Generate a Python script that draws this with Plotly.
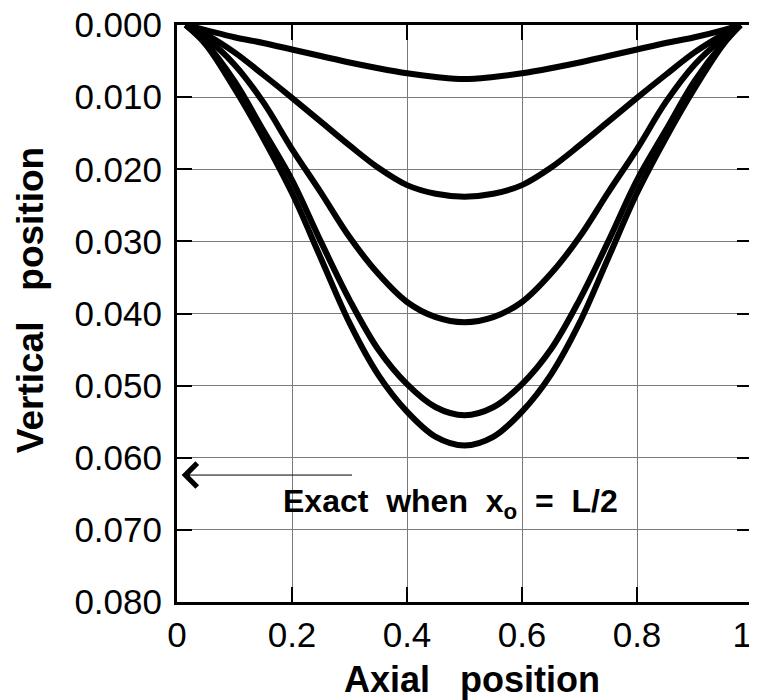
import plotly.graph_objects as go

# Axial positions (fraction of length)
axial = [0.015, 0.05, 0.1, 0.15, 0.2, 0.25, 0.3, 0.35, 0.4, 0.45, 0.5,
         0.55, 0.6, 0.65, 0.7, 0.75, 0.8, 0.85, 0.9, 0.95, 0.98]

# Vertical positions of the five deflection curves
curve_1 = [0.0, 0.0007, 0.0017, 0.0025, 0.0034, 0.0043, 0.0052, 0.0060, 0.0067, 0.0072, 0.0075,
           0.0072, 0.0067, 0.0060, 0.0052, 0.0043, 0.0034, 0.0025, 0.0017, 0.0007, 0.0]
curve_2 = [0.0, 0.0013, 0.0038, 0.0069, 0.0101, 0.0134, 0.0167, 0.0198, 0.0222, 0.0234, 0.0238,
           0.0234, 0.0222, 0.0198, 0.0167, 0.0134, 0.0101, 0.0069, 0.0038, 0.0013, 0.0]
curve_3 = [0.0, 0.0018, 0.0055, 0.0107, 0.0172, 0.0232, 0.0294, 0.0345, 0.0384, 0.0405, 0.0412,
           0.0405, 0.0384, 0.0345, 0.0294, 0.0232, 0.0172, 0.0107, 0.0055, 0.0018, 0.0]
curve_4 = [0.0, 0.0025, 0.0078, 0.0146, 0.0215, 0.0300, 0.0381, 0.0450, 0.0498, 0.0530, 0.0541,
           0.0530, 0.0498, 0.0450, 0.0381, 0.0300, 0.0215, 0.0146, 0.0078, 0.0025, 0.0]
curve_5 = [0.0, 0.0027, 0.0088, 0.0157, 0.0233, 0.0323, 0.0413, 0.0485, 0.0536, 0.0571, 0.0583,
           0.0571, 0.0536, 0.0485, 0.0413, 0.0323, 0.0233, 0.0157, 0.0088, 0.0027, 0.0]

curves = [curve_1, curve_2, curve_3, curve_4, curve_5]

NB = "\u00a0"
x_ticks = [0, 0.2, 0.4, 0.6, 0.8, 1]
x_tick_labels = ["0", "0.2", "0.4", "0.6", "0.8", "1" + NB + NB]
y_ticks = [0.0, 0.01, 0.02, 0.03, 0.04, 0.05, 0.06, 0.07, 0.08]
y_tick_labels = ["0.000", "0.010", "0.020", "0.030", "0.040", "0.050", "0.060", "0.070", "0.080"]

x_title = "Axial" + NB * 3 + "position"
y_title = "Vertical" + NB * 3 + "position"
note = "Exact" + NB * 2 + "when" + NB * 2 + "x<sub>o</sub>" + NB * 2 + "=" + NB * 2 + "L/2"

exact_value = 0.0624
arrow_from = 0.307
arrow_to = 0.008

FONT = "Liberation Sans, Arial, Helvetica, sans-serif"

fig = go.Figure()
for c in curves:
    fig.add_trace(go.Scatter(x=axial, y=c, mode="lines",
                             line=dict(color="black", width=6, shape="spline", smoothing=1.0),
                             showlegend=False, hoverinfo="skip"))

axis_common = dict(
    showline=True, linecolor="black", linewidth=3, mirror="ticks",
    ticks="inside", ticklen=15, tickwidth=2, tickcolor="black",
    showgrid=True, gridcolor="#7a7a7a", gridwidth=1, zeroline=False,
    tickfont=dict(family=FONT, size=35, color="black"),
    automargin=False, ticklabeloverflow="allow",
)

fig.update_xaxes(range=[0, 1], tickvals=x_ticks, ticktext=x_tick_labels, **axis_common)
fig.update_yaxes(range=[0.08, 0.0], tickvals=y_ticks, ticktext=y_tick_labels,
                 ticklabelstandoff=5, **axis_common)

# Axis titles
fig.add_annotation(x=0.513, y=-0.135, xref="paper", yref="paper", showarrow=False,
                   text="<b>" + x_title + "</b>", font=dict(family=FONT, size=36, color="black"),
                   xanchor="center", yanchor="middle")
fig.add_annotation(x=-0.2557, y=0.523, xref="paper", yref="paper", showarrow=False,
                   text="<b>" + y_title + "</b>", textangle=-90,
                   font=dict(family=FONT, size=37, color="black"),
                   xanchor="center", yanchor="middle")

fig.add_annotation(x=arrow_to, y=exact_value, ax=arrow_from, ay=exact_value,
                   xref="x", yref="y", axref="x", ayref="y",
                   showarrow=True, arrowhead=4, arrowsize=4.6, arrowwidth=1.0,
                   arrowcolor="black", text="")
fig.add_annotation(x=0.475, y=0.0664, xref="x", yref="y", showarrow=False,
                   text="<b>" + note + "</b>",
                   font=dict(family=FONT, size=32, color="black"),
                   xanchor="center", yanchor="middle")

# The page body adds an 8px offset; sizes and margins compensate for it.
fig.update_layout(width=749, height=692, margin=dict(l=169, r=5, t=17, b=98),
                  plot_bgcolor="white", paper_bgcolor="white")

fig.write_html("out.html")
